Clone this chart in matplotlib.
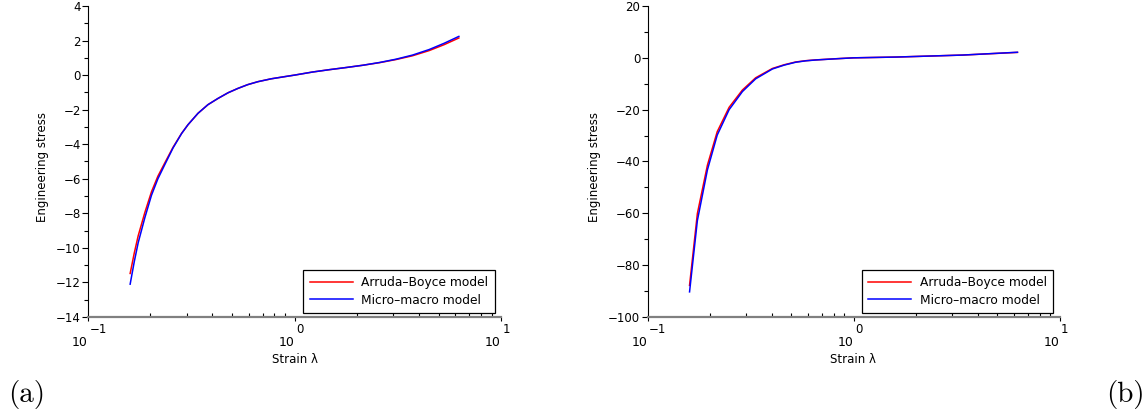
import matplotlib
matplotlib.use("Agg")
import matplotlib.pyplot as plt
from matplotlib.ticker import LogLocator, MultipleLocator, NullFormatter, FixedLocator

# stretch values
lam_a = [0.16, 0.1675, 0.175, 0.1885, 0.203, 0.218, 0.235, 0.258, 0.284, 0.305,
         0.341, 0.381, 0.426, 0.477, 0.532, 0.594, 0.665, 0.77, 0.895, 1.0,
         1.225, 1.475, 1.78, 2.14, 2.58, 3.1, 3.73, 4.49, 5.3, 6.25]
ab_a = [-11.48, -10.3, -9.3, -7.95, -6.75, -5.85, -5.1, -4.18, -3.37, -2.87,
        -2.21, -1.71, -1.35, -1.02, -0.77, -0.55, -0.38, -0.215, -0.09, 0.0,
        0.18, 0.315, 0.44, 0.57, 0.72, 0.9, 1.12, 1.42, 1.76, 2.15]
mm_a = [-12.1, -10.8, -9.7, -8.25, -6.95, -6.0, -5.2, -4.22, -3.38, -2.87,
        -2.21, -1.71, -1.35, -1.02, -0.77, -0.55, -0.38, -0.215, -0.09, 0.0,
        0.18, 0.315, 0.44, 0.57, 0.73, 0.92, 1.16, 1.48, 1.84, 2.24]

lam_b = [0.16, 0.1746, 0.1954, 0.218, 0.249, 0.289, 0.335, 0.404, 0.461, 0.524,
         0.587, 0.655, 0.82, 1.0, 1.61, 3.39, 6.25]
ab_b = [-87.8, -60.1, -41.4, -28.5, -19.1, -12.4, -7.7, -4.1, -2.67, -1.6,
        -1.1, -0.8, -0.35, 0.0, 0.3, 1.07, 2.1]
mm_b = [-90.3, -62.8, -43.2, -29.8, -20.0, -13.0, -8.1, -4.3, -2.8, -1.7,
        -1.15, -0.83, -0.37, 0.0, 0.3, 1.07, 2.15]

decades = [0.1, 1, 10]
exponents = ['\u22121', '0', '1']

fig = plt.figure(figsize=(11.46, 4.17), dpi=100)
W, H = 1146, 417

def make_axes(left_px, right_px, lam, ab, mm, ylim, major, minor):
    ax = fig.add_axes([left_px / W, (H - 317) / H, (right_px - left_px) / W, 311 / H])
    ax.plot(lam, ab, color='red', lw=1.1, label='Arruda\u2013Boyce model')
    ax.plot(lam, mm, color='blue', lw=1.1, label='Micro\u2013macro model')
    ax.set_xscale('log')
    ax.set_xlim(0.1, 10)
    ax.set_ylim(*ylim)
    ax.spines['top'].set_visible(False)
    ax.spines['right'].set_visible(False)
    ax.spines['bottom'].set_color('#808080')
    ax.spines['bottom'].set_linewidth(1.6)
    ax.spines['left'].set_linewidth(0.8)

    ax.yaxis.set_major_locator(MultipleLocator(major))
    ax.yaxis.set_minor_locator(MultipleLocator(minor))
    ax.tick_params(axis='y', which='major', direction='out', length=4.3, width=0.8,
                   pad=1.0, labelsize=8.5)
    ax.tick_params(axis='y', which='minor', direction='out', length=3.0, width=0.8)

    ax.xaxis.set_major_locator(FixedLocator(decades))
    ax.xaxis.set_minor_locator(LogLocator(base=10, subs=range(2, 10)))
    ax.xaxis.set_minor_formatter(NullFormatter())
    ax.set_xticklabels(['10'] * len(decades))
    for lab in ax.get_xticklabels():
        lab.set_horizontalalignment('right')
    ax.tick_params(axis='x', which='major', direction='out', length=3.0, width=0.8,
                   pad=11, labelsize=9)
    ax.tick_params(axis='x', which='minor', direction='in', length=3.0, width=0.8)
    for d, e in zip(decades, exponents):
        ax.annotate(e, xy=(d, 0), xycoords=('data', 'axes fraction'),
                    xytext=(1, -4.5), textcoords='offset points',
                    ha='left', va='top', fontsize=8.5)

    ax.set_xlabel('Strain \u03bb', fontsize=8.5, labelpad=2.5)
    ax.set_ylabel('Engineering stress', fontsize=8.5, labelpad=5)
    ax.yaxis.label.set_y(0.482)
    leg = ax.legend(loc='lower right', bbox_to_anchor=(0.985, 0.012), borderaxespad=0,
                    fontsize=8.8, handlelength=3.5, handletextpad=0.7,
                    borderpad=0.55, labelspacing=0.35, fancybox=False, framealpha=1)
    leg.get_frame().set_edgecolor('black')
    leg.get_frame().set_linewidth(0.9)
    return ax

make_axes(88, 501, lam_a, ab_a, mm_a, (-14, 4), 2, 1)
make_axes(647.5, 1059.5, lam_b, ab_b, mm_b, (-100, 20), 20, 10)

fig.text(8 / W, 15 / H, '(a)', family='cmr10', fontsize=21, ha='left', va='baseline')
fig.text(1145 / W, 15 / H, '(b)', family='cmr10', fontsize=21, ha='right', va='baseline')

fig.savefig('out.png', dpi=100)
